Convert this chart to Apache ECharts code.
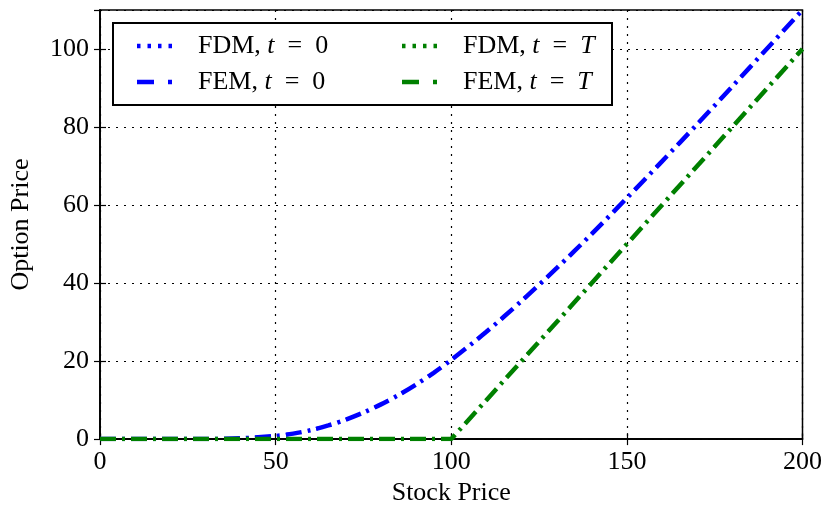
<!DOCTYPE html>
<html>
<head>
<meta charset="utf-8">
<script src="https://cdn.jsdelivr.net/npm/echarts@6/dist/echarts.min.js"></script>
<style>
    html, body { margin: 0; padding: 0; background: #fff; }
    #chart { width: 825px; height: 511px; }
</style>
</head>
<body>
<div id="chart"></div>
<script>
const stockT0 = [0, 10, 20, 30, 40, 50, 55, 60, 65, 70, 75, 80, 85, 90, 95, 100, 110, 120, 130, 140, 150, 160, 170, 180, 190, 200];
// option price at t = 0 (FDM and FEM lie on top of each other)
const fdmT0 = [0, 0, 0, 0, 0.2, 0.8, 1.4, 2.3, 3.5, 5.0, 6.8, 8.9, 11.3, 14.0, 17.0, 20.3, 27.5, 35.4, 43.8, 52.6, 61.8, 71.2, 80.7, 90.4, 100.2, 110.0];
const femT0 = [0, 0, 0, 0, 0.2, 0.8, 1.4, 2.3, 3.5, 5.0, 6.8, 8.9, 11.3, 14.0, 17.0, 20.3, 27.5, 35.4, 43.8, 52.6, 61.8, 71.2, 80.7, 90.4, 100.2, 110.0];
// payoff at t = T
const stockTT = [0, 50, 100, 150, 200];
const fdmTT = [0, 0, 0, 50, 100];
const femTT = [0, 0, 0, 50, 100];

const xTicks = { min: 0, max: 200, interval: 50 };
const yTicks = { min: 0, max: 110, interval: 20 };

const pairs = (xs, ys) => xs.map((x, i) => [x, ys[i]]);

const FONT = 'Liberation Serif';
const BLUE = '#0000ff';
const GREEN = '#008000';

// legend handles
const dotIcon = 'path://M0,0h3.5v4.5h-3.5z M10.5,0h3.5v4.5h-3.5z M21,0h3.5v4.5h-3.5z M31.5,0h3.5v4.5h-3.5z';
const dashDotIcon = 'path://M0,0h17v4.5h-17z M31,0h4v4.5h-4z';

// same period as the dash-dot, so the fdm dots sit under the fem dashes
const dashDot = [16, 6, 3, 6];
const dots = [3, 28];

const labels = {
    'FDM0': 'FDM, {i|t}\u2002=\u20020',
    'FEM0': 'FEM, {i|t}\u2002=\u20020',
    'FDMT': 'FDM, {i|t}\u2002=\u2002{i|T}',
    'FEMT': 'FEM, {i|t}\u2002=\u2002{i|T}'
};

let mycharts = echarts.init(document.getElementById('chart'));

const legendText = {
    fontFamily: FONT,
    fontSize: 26,
    color: '#000',
    lineHeight: 26,
    padding: [0, 0, 0, 21],
    rich: {
        i: { fontFamily: FONT, fontSize: 26, fontStyle: 'italic', color: '#000' }
    }
};

const sideAxis = {
    type: 'value',
    axisLine: { show: true, lineStyle: { color: '#000', width: 1.5 } },
    axisTick: { show: true, inside: true, length: 6, lineStyle: { color: '#000', width: 1.2 } },
    axisLabel: { show: false },
    splitLine: { show: false }
};

mycharts.setOption({
    animation: false,
    grid: {
        left: 100,
        right: 22,
        top: 10,
        bottom: 68,
        show: true,
        borderColor: '#000',
        borderWidth: 1.5
    },
    legend: [
        {
            orient: 'vertical',
            left: 132,
            top: 28,
            itemWidth: 35,
            itemHeight: 4.5,
            itemGap: 10,
            data: [
                { name: 'FDM0', icon: dotIcon },
                { name: 'FEM0', icon: dashDotIcon }
            ],
            formatter: name => labels[name],
            textStyle: legendText
        },
        {
            orient: 'vertical',
            left: 397,
            top: 28,
            itemWidth: 35,
            itemHeight: 4.5,
            itemGap: 10,
            data: [
                { name: 'FDMT', icon: dotIcon },
                { name: 'FEMT', icon: dashDotIcon }
            ],
            formatter: name => labels[name],
            textStyle: legendText
        }
    ],
    graphic: [
        {
            type: 'rect',
            z: 3,
            shape: { x: 113, y: 23, width: 499, height: 82 },
            style: { fill: '#fff', stroke: '#000', lineWidth: 2 }
        }
    ],
    xAxis: [
        {
            type: 'value',
            min: xTicks.min,
            max: xTicks.max,
            interval: xTicks.interval,
            name: 'Stock Price',
            nameLocation: 'middle',
            nameGap: 19,
            nameTextStyle: { fontFamily: FONT, fontSize: 26, color: '#000' },
            axisLine: { show: true, lineStyle: { color: '#000', width: 1.5 } },
            axisTick: { show: true, inside: true, length: 6, lineStyle: { color: '#000', width: 1.2 } },
            axisLabel: { margin: 10, fontFamily: FONT, fontSize: 26, color: '#000' },
            splitLine: { show: true, lineStyle: { color: '#000', width: 1.2, type: [2, 6] } }
        },
        Object.assign({}, sideAxis, {
            position: 'top',
            min: xTicks.min,
            max: xTicks.max,
            interval: xTicks.interval
        })
    ],
    yAxis: [
        {
            type: 'value',
            min: yTicks.min,
            max: yTicks.max,
            interval: yTicks.interval,
            name: 'Option Price',
            nameLocation: 'middle',
            nameGap: 66,
            nameTextStyle: { fontFamily: FONT, fontSize: 26, color: '#000' },
            axisLine: { show: true, lineStyle: { color: '#000', width: 1.5 } },
            axisTick: { show: true, inside: true, length: 6, lineStyle: { color: '#000', width: 1.2 } },
            axisLabel: { margin: 11, fontFamily: FONT, fontSize: 26, color: '#000', showMaxLabel: false },
            splitLine: { show: true, lineStyle: { color: '#000', width: 1.2, type: [2, 6] } }
        },
        Object.assign({}, sideAxis, {
            position: 'right',
            min: yTicks.min,
            max: yTicks.max,
            interval: yTicks.interval
        })
    ],
    series: [
        {
            name: 'FDM0',
            type: 'line',
            data: pairs(stockT0, fdmT0),
            showSymbol: false,
            smooth: 0.3,
            color: BLUE,
            lineStyle: { color: BLUE, width: 3.5, type: dots, cap: 'butt' }
        },
        {
            name: 'FEM0',
            type: 'line',
            data: pairs(stockT0, femT0),
            showSymbol: false,
            smooth: 0.3,
            color: BLUE,
            lineStyle: { color: BLUE, width: 4.5, type: dashDot, cap: 'butt' }
        },
        {
            name: 'FDMT',
            type: 'line',
            data: pairs(stockTT, fdmTT),
            showSymbol: false,
            color: GREEN,
            lineStyle: { color: GREEN, width: 3.5, type: dots, cap: 'butt' }
        },
        {
            name: 'FEMT',
            type: 'line',
            data: pairs(stockTT, femTT),
            showSymbol: false,
            color: GREEN,
            lineStyle: { color: GREEN, width: 4.5, type: dashDot, cap: 'butt' }
        }
    ]
});
</script>
</body>
</html>
